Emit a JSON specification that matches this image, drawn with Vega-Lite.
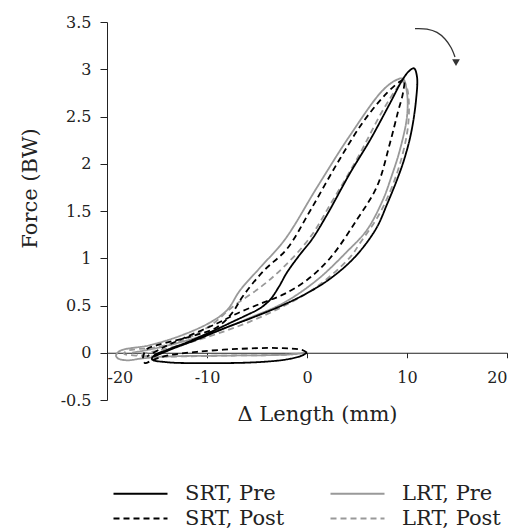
{
  "$schema": "https://vega.github.io/schema/vega-lite/v6.json",
  "width": 400,
  "height": 378,
  "autosize": {"type": "none"},
  "padding": {"left": 107, "top": 22, "right": 9, "bottom": 131},
  "config": {
    "font": "DejaVu Serif",
    "view": {"stroke": null},
    "axis": {"grid": false, "domainColor": "#222", "tickColor": "#222", "labelColor": "#222", "titleColor": "#222", "titleFontWeight": "normal", "labelFont": "DejaVu Serif", "titleFont": "DejaVu Serif"},
    "legend": {"labelFont": "DejaVu Serif"}
  },
  "datasets": {
    "loops": [
      {"s":"LRT, Pre","i":0,"x":0,"y":0},{"s":"LRT, Pre","i":1,"x":-2,"y":-0.02},{"s":"LRT, Pre","i":2,"x":-8,"y":-0.03},{"s":"LRT, Pre","i":3,"x":-14,"y":-0.04},{"s":"LRT, Pre","i":4,"x":-16.5,"y":-0.06},{"s":"LRT, Pre","i":5,"x":-18,"y":-0.08},{"s":"LRT, Pre","i":6,"x":-18.9,"y":-0.06},{"s":"LRT, Pre","i":7,"x":-19.1,"y":-0.03},
      {"s":"LRT, Pre","i":8,"x":-18.7,"y":0.02},{"s":"LRT, Pre","i":9,"x":-15.7,"y":0.08},{"s":"LRT, Pre","i":10,"x":-12.4,"y":0.19},{"s":"LRT, Pre","i":11,"x":-9.7,"y":0.32},{"s":"LRT, Pre","i":12,"x":-8,"y":0.45},{"s":"LRT, Pre","i":13,"x":-6.7,"y":0.66},{"s":"LRT, Pre","i":14,"x":-4.7,"y":0.9},{"s":"LRT, Pre","i":15,"x":-2.2,"y":1.2},{"s":"LRT, Pre","i":16,"x":1,"y":1.75},{"s":"LRT, Pre","i":17,"x":4.3,"y":2.3},{"s":"LRT, Pre","i":18,"x":7.6,"y":2.78},{"s":"LRT, Pre","i":19,"x":9,"y":2.89},{"s":"LRT, Pre","i":20,"x":9.6,"y":2.9},
      {"s":"LRT, Pre","i":21,"x":10,"y":2.75},{"s":"LRT, Pre","i":22,"x":10,"y":2.5},{"s":"LRT, Pre","i":23,"x":9.3,"y":2.15},{"s":"LRT, Pre","i":24,"x":8.4,"y":1.85},{"s":"LRT, Pre","i":25,"x":7.6,"y":1.62},{"s":"LRT, Pre","i":26,"x":6,"y":1.3},{"s":"LRT, Pre","i":27,"x":4,"y":1.07},{"s":"LRT, Pre","i":28,"x":1,"y":0.77},{"s":"LRT, Pre","i":29,"x":-2.3,"y":0.53},{"s":"LRT, Pre","i":30,"x":-5.7,"y":0.37},{"s":"LRT, Pre","i":31,"x":-9,"y":0.23},{"s":"LRT, Pre","i":32,"x":-12,"y":0.13},{"s":"LRT, Pre","i":33,"x":-15,"y":0.05},{"s":"LRT, Pre","i":34,"x":-17.5,"y":0.0},

      {"s":"LRT, Post","i":0,"x":0,"y":0},{"s":"LRT, Post","i":1,"x":-2,"y":-0.02},{"s":"LRT, Post","i":2,"x":-8,"y":-0.03},{"s":"LRT, Post","i":3,"x":-14,"y":-0.04},{"s":"LRT, Post","i":4,"x":-17,"y":-0.03},{"s":"LRT, Post","i":5,"x":-18.3,"y":-0.01},
      {"s":"LRT, Post","i":6,"x":-18,"y":0.02},{"s":"LRT, Post","i":7,"x":-15,"y":0.06},{"s":"LRT, Post","i":8,"x":-12,"y":0.15},{"s":"LRT, Post","i":9,"x":-9.5,"y":0.3},{"s":"LRT, Post","i":10,"x":-7.4,"y":0.49},{"s":"LRT, Post","i":11,"x":-4.7,"y":0.69},{"s":"LRT, Post","i":12,"x":-2.4,"y":0.9},{"s":"LRT, Post","i":13,"x":0.3,"y":1.22},{"s":"LRT, Post","i":14,"x":2.5,"y":1.6},{"s":"LRT, Post","i":15,"x":5,"y":2.05},{"s":"LRT, Post","i":16,"x":7.5,"y":2.55},{"s":"LRT, Post","i":17,"x":9,"y":2.8},{"s":"LRT, Post","i":18,"x":9.6,"y":2.87},
      {"s":"LRT, Post","i":19,"x":10,"y":2.8},{"s":"LRT, Post","i":20,"x":10.2,"y":2.6},{"s":"LRT, Post","i":21,"x":10,"y":2.32},{"s":"LRT, Post","i":22,"x":9,"y":1.9},{"s":"LRT, Post","i":23,"x":7.3,"y":1.48},{"s":"LRT, Post","i":24,"x":5.3,"y":1.16},{"s":"LRT, Post","i":25,"x":4.3,"y":1.01},{"s":"LRT, Post","i":26,"x":1,"y":0.7},{"s":"LRT, Post","i":27,"x":-2.4,"y":0.49},{"s":"LRT, Post","i":28,"x":-5.7,"y":0.33},{"s":"LRT, Post","i":29,"x":-9,"y":0.2},{"s":"LRT, Post","i":30,"x":-12,"y":0.1},{"s":"LRT, Post","i":31,"x":-15,"y":0.02},{"s":"LRT, Post","i":32,"x":-17,"y":-0.02},

      {"s":"SRT, Pre","i":0,"x":0,"y":0},{"s":"SRT, Pre","i":1,"x":-0.5,"y":-0.03},{"s":"SRT, Pre","i":2,"x":-2,"y":-0.07},{"s":"SRT, Pre","i":3,"x":-5,"y":-0.1},{"s":"SRT, Pre","i":4,"x":-10,"y":-0.11},{"s":"SRT, Pre","i":5,"x":-14,"y":-0.1},{"s":"SRT, Pre","i":6,"x":-15.5,"y":-0.07},
      {"s":"SRT, Pre","i":7,"x":-15.3,"y":-0.03},{"s":"SRT, Pre","i":8,"x":-14,"y":0.03},{"s":"SRT, Pre","i":9,"x":-12,"y":0.11},{"s":"SRT, Pre","i":10,"x":-10.7,"y":0.17},{"s":"SRT, Pre","i":11,"x":-9,"y":0.25},{"s":"SRT, Pre","i":12,"x":-7.4,"y":0.33},{"s":"SRT, Pre","i":13,"x":-6,"y":0.4},{"s":"SRT, Pre","i":14,"x":-4.7,"y":0.47},{"s":"SRT, Pre","i":15,"x":-3.7,"y":0.56},{"s":"SRT, Pre","i":16,"x":-2.8,"y":0.7},{"s":"SRT, Pre","i":17,"x":-2,"y":0.85},{"s":"SRT, Pre","i":18,"x":-0.7,"y":1.04},{"s":"SRT, Pre","i":19,"x":0.5,"y":1.2},{"s":"SRT, Pre","i":20,"x":2,"y":1.46},{"s":"SRT, Pre","i":21,"x":4.3,"y":1.9},{"s":"SRT, Pre","i":22,"x":6.3,"y":2.25},{"s":"SRT, Pre","i":23,"x":8.3,"y":2.64},{"s":"SRT, Pre","i":24,"x":9.5,"y":2.88},{"s":"SRT, Pre","i":25,"x":10.2,"y":2.98},{"s":"SRT, Pre","i":26,"x":10.7,"y":3.01},
      {"s":"SRT, Pre","i":27,"x":11,"y":2.92},{"s":"SRT, Pre","i":28,"x":10.9,"y":2.67},{"s":"SRT, Pre","i":29,"x":10.4,"y":2.32},{"s":"SRT, Pre","i":30,"x":9.7,"y":2.04},{"s":"SRT, Pre","i":31,"x":9,"y":1.83},{"s":"SRT, Pre","i":32,"x":8,"y":1.57},{"s":"SRT, Pre","i":33,"x":7,"y":1.33},{"s":"SRT, Pre","i":34,"x":5.5,"y":1.1},{"s":"SRT, Pre","i":35,"x":4,"y":0.93},{"s":"SRT, Pre","i":36,"x":2,"y":0.76},{"s":"SRT, Pre","i":37,"x":0,"y":0.63},{"s":"SRT, Pre","i":38,"x":-2.5,"y":0.5},{"s":"SRT, Pre","i":39,"x":-5.5,"y":0.37},{"s":"SRT, Pre","i":40,"x":-8,"y":0.27},{"s":"SRT, Pre","i":41,"x":-11,"y":0.14},{"s":"SRT, Pre","i":42,"x":-13.5,"y":0.04},{"s":"SRT, Pre","i":43,"x":-15.3,"y":-0.04},

      {"s":"SRT, Post","i":0,"x":0,"y":0},{"s":"SRT, Post","i":1,"x":-0.5,"y":0.03},{"s":"SRT, Post","i":2,"x":-3,"y":0.05},{"s":"SRT, Post","i":3,"x":-7,"y":0.04},{"s":"SRT, Post","i":4,"x":-11,"y":0.01},{"s":"SRT, Post","i":5,"x":-14,"y":-0.03},{"s":"SRT, Post","i":6,"x":-15.5,"y":-0.08},{"s":"SRT, Post","i":7,"x":-16.2,"y":-0.11},
      {"s":"SRT, Post","i":8,"x":-16.4,"y":-0.05},{"s":"SRT, Post","i":9,"x":-16,"y":0.04},{"s":"SRT, Post","i":10,"x":-15,"y":0.08},{"s":"SRT, Post","i":11,"x":-11.7,"y":0.17},{"s":"SRT, Post","i":12,"x":-9,"y":0.27},{"s":"SRT, Post","i":13,"x":-7.5,"y":0.42},{"s":"SRT, Post","i":14,"x":-6.4,"y":0.6},{"s":"SRT, Post","i":15,"x":-4.4,"y":0.86},{"s":"SRT, Post","i":16,"x":-2,"y":1.1},{"s":"SRT, Post","i":17,"x":0.3,"y":1.5},{"s":"SRT, Post","i":18,"x":3,"y":2.0},{"s":"SRT, Post","i":19,"x":5.6,"y":2.44},{"s":"SRT, Post","i":20,"x":8,"y":2.75},{"s":"SRT, Post","i":21,"x":9.3,"y":2.87},{"s":"SRT, Post","i":22,"x":9.7,"y":2.89},
      {"s":"SRT, Post","i":23,"x":9.6,"y":2.75},{"s":"SRT, Post","i":24,"x":9.1,"y":2.55},{"s":"SRT, Post","i":25,"x":8.3,"y":2.22},{"s":"SRT, Post","i":26,"x":7,"y":1.76},{"s":"SRT, Post","i":27,"x":5,"y":1.41},{"s":"SRT, Post","i":28,"x":2.3,"y":1.0},{"s":"SRT, Post","i":29,"x":0,"y":0.77},{"s":"SRT, Post","i":30,"x":-2.3,"y":0.62},{"s":"SRT, Post","i":31,"x":-4.4,"y":0.53},{"s":"SRT, Post","i":32,"x":-6.7,"y":0.43},{"s":"SRT, Post","i":33,"x":-9,"y":0.31},{"s":"SRT, Post","i":34,"x":-12,"y":0.17},{"s":"SRT, Post","i":35,"x":-14.5,"y":0.05},{"s":"SRT, Post","i":36,"x":-16,"y":-0.04}
    ],
    "arrow": [
      {"i":0,"x":10.8,"y":3.43},{"i":1,"x":12,"y":3.425},{"i":2,"x":13,"y":3.39},{"i":3,"x":13.8,"y":3.32},{"i":4,"x":14.4,"y":3.23},{"i":5,"x":14.8,"y":3.13}
    ],
    "head": [{"x":14.9,"y":3.07}]
  },
  "layer": [
    {
      "data": {"name": "loops"},
      "mark": {"type": "line", "interpolate": "catmull-rom", "strokeWidth": 1.8},
      "encoding": {
        "x": {"field": "x", "type": "quantitative", "scale": {"domain": [-20, 20], "nice": false, "zero": false},
          "axis": {"title": "Δ Length (mm)", "values": [-20, -10, 0, 10, 20], "offset": -47.25, "tickSize": 5, "labelPadding": 12, "labelFontSize": 16, "titleFontSize": 21, "titleX": 210, "titleY": 68, "titleBaseline": "alphabetic", "labelExpr": "'' + datum.value"}},
        "y": {"field": "y", "type": "quantitative", "scale": {"domain": [-0.5, 3.5], "nice": false, "zero": false},
          "axis": {"title": "Force (BW)", "values": [-0.5, 0, 0.5, 1, 1.5, 2, 2.5, 3, 3.5], "tickSize": 7, "labelPadding": 9, "labelFontSize": 16, "titleFontSize": 21, "titleX": -77, "titleY": 166, "titleAngle": -90, "titleBaseline": "middle", "titleAlign": "center", "labelExpr": "'' + datum.value"}},
        "color": {"field": "s", "type": "nominal", "scale": {"domain": ["SRT, Pre", "SRT, Post", "LRT, Pre", "LRT, Post"], "range": ["#000000", "#000000", "#999999", "#999999"]},
          "legend": {"title": null, "orient": "none", "legendX": 19, "legendY": 457, "columns": 2, "symbolType": "M-2,0H2", "symbolSize": 729, "symbolStrokeWidth": 2, "labelFontSize": 21, "labelColor": "#222", "labelOffset": 30, "rowPadding": 0, "columnPadding": 41, "padding": 0}},
        "strokeDash": {"field": "s", "type": "nominal", "scale": {"domain": ["SRT, Pre", "SRT, Post", "LRT, Pre", "LRT, Post"], "range": [[1, 0], [6, 4], [1, 0], [6, 4]]}},
        "detail": {"field": "s"},
        "order": {"field": "i", "type": "quantitative"}
      }
    },
    {
      "data": {"name": "arrow"},
      "mark": {"type": "line", "interpolate": "catmull-rom", "color": "#333", "strokeWidth": 1.3},
      "encoding": {
        "x": {"field": "x", "type": "quantitative"},
        "y": {"field": "y", "type": "quantitative"},
        "order": {"field": "i", "type": "quantitative"}
      }
    },
    {
      "data": {"name": "head"},
      "mark": {"type": "point", "shape": "triangle-down", "filled": true, "color": "#333", "size": 60, "opacity": 1},
      "encoding": {
        "x": {"field": "x", "type": "quantitative"},
        "y": {"field": "y", "type": "quantitative"}
      }
    }
  ]
}
